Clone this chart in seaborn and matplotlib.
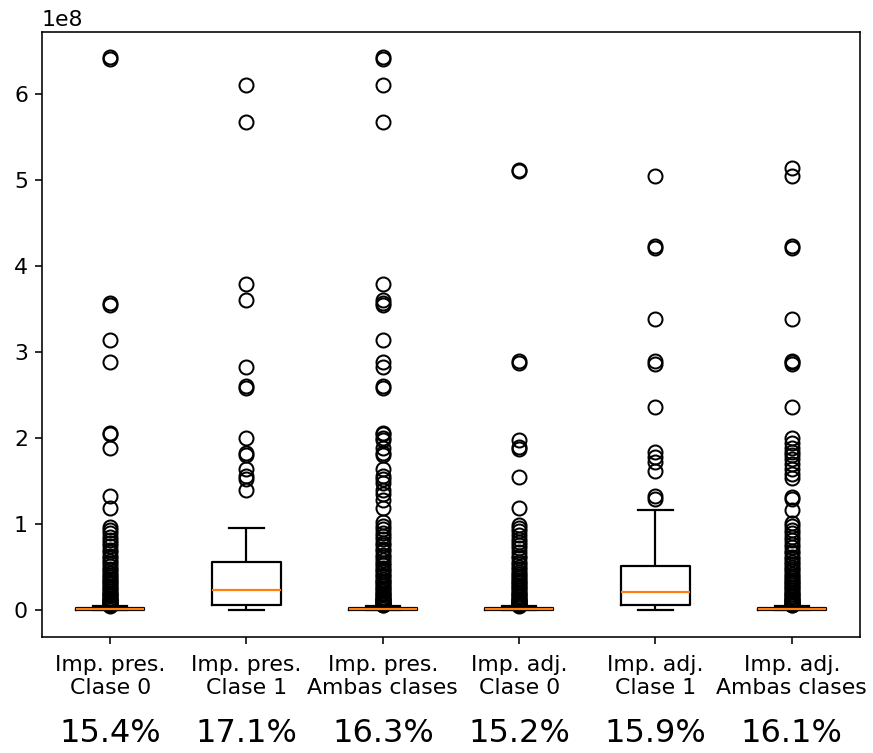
import numpy as np
import pandas as pd
import matplotlib
matplotlib.use("Agg")
import matplotlib.pyplot as plt
import matplotlib.transforms as mtransforms
import seaborn as sns

# ---------------- data (values in units of 1e8) ----------------
labels = ["Imp. pres.\nClase 0", "Imp. pres.\nClase 1", "Imp. pres.\nAmbas clases",
          "Imp. adj.\nClase 0", "Imp. adj.\nClase 1", "Imp. adj.\nAmbas clases"]
percentages = ["15.4%", "17.1%", "16.3%", "15.2%", "15.9%", "16.1%"]

# box statistics per group: lower whisker, Q1, median, Q3, upper whisker
stats_g1 = [0.0, 0.001, 0.006, 0.020, 0.040]
stats_g2 = [0.0, 0.055, 0.230, 0.560, 0.950]
stats_g3 = [0.0, 0.001, 0.007, 0.022, 0.045]
stats_g4 = [0.0, 0.001, 0.006, 0.020, 0.040]
stats_g5 = [0.0, 0.055, 0.210, 0.510, 1.160]
stats_g6 = [0.0, 0.001, 0.007, 0.022, 0.045]

out_g1 = [6.43, 6.41, 3.57, 3.55, 3.14, 2.88, 2.06, 2.04, 1.88, 1.33, 1.18,
          0.96, 0.93, 0.89, 0.85, 0.81, 0.78, 0.74, 0.70, 0.67, 0.63, 0.60, 0.57,
          0.54, 0.51, 0.48, 0.46, 0.43, 0.41, 0.38, 0.36, 0.34, 0.32, 0.30, 0.28,
          0.26, 0.24, 0.22, 0.20, 0.19, 0.17, 0.16, 0.14, 0.13, 0.12, 0.11, 0.10,
          0.09, 0.08, 0.07, 0.065, 0.06, 0.055, 0.05]
out_g2 = [6.10, 5.67, 3.79, 3.60, 2.83, 2.60, 2.58, 2.00, 1.82, 1.80, 1.64,
          1.56, 1.52, 1.40]
out_g3 = [6.43, 6.41, 6.10, 5.67, 3.79, 3.60, 3.57, 3.55, 3.14, 2.88, 2.83,
          2.60, 2.58, 2.06, 2.04, 2.00, 1.98, 1.88, 1.82, 1.80, 1.64, 1.56, 1.52,
          1.48, 1.40, 1.35, 1.28, 1.19, 1.02, 0.98, 0.94, 0.90, 0.86, 0.82, 0.78,
          0.75, 0.71, 0.68, 0.64, 0.61, 0.58, 0.55, 0.52, 0.49, 0.46, 0.44, 0.41,
          0.39, 0.36, 0.34, 0.32, 0.30, 0.28, 0.26, 0.24, 0.22, 0.20, 0.18, 0.17,
          0.15, 0.14, 0.13, 0.12, 0.11, 0.10, 0.09, 0.08, 0.07, 0.065, 0.06, 0.055]
out_g4 = [5.12, 5.10, 2.90, 2.87, 1.98, 1.89, 1.87, 1.55, 1.19, 0.99, 0.95,
          0.92, 0.87, 0.83, 0.79, 0.75, 0.72, 0.67, 0.63, 0.60, 0.56, 0.53, 0.50,
          0.47, 0.44, 0.42, 0.39, 0.37, 0.35, 0.33, 0.31, 0.29, 0.27, 0.25, 0.23,
          0.21, 0.19, 0.18, 0.16, 0.15, 0.13, 0.12, 0.11, 0.10, 0.09, 0.08, 0.07,
          0.065, 0.06, 0.055, 0.05]
out_g5 = [5.05, 4.23, 4.21, 3.38, 2.89, 2.86, 2.36, 1.84, 1.78, 1.72, 1.62,
          1.33, 1.29]
out_g6 = [5.14, 5.05, 4.23, 4.21, 3.38, 2.90, 2.88, 2.86, 2.36, 2.00, 1.94,
          1.88, 1.84, 1.80, 1.75, 1.70, 1.64, 1.58, 1.53, 1.31, 1.29, 1.16, 1.01,
          0.97, 0.93, 0.89, 0.85, 0.81, 0.77, 0.73, 0.69, 0.66, 0.62, 0.59, 0.56,
          0.53, 0.50, 0.47, 0.45, 0.42, 0.40, 0.37, 0.35, 0.33, 0.31, 0.29, 0.27,
          0.25, 0.23, 0.21, 0.19, 0.18, 0.16, 0.15, 0.13, 0.12, 0.11, 0.10, 0.09,
          0.08, 0.07, 0.065, 0.06, 0.055]

SCALE = 1e8
BLOCK = 150  # repetitions so that quartiles land exactly on the listed stats

all_stats = [stats_g1, stats_g2, stats_g3, stats_g4, stats_g5, stats_g6]
all_out = [out_g1, out_g2, out_g3, out_g4, out_g5, out_g6]

rows = []
for lab, st, outs in zip(labels, all_stats, all_out):
    lo, q1, med, q3, hi = st
    vals = [lo] + [q1] * BLOCK + [med] * BLOCK + [q3] * BLOCK + [hi] + list(outs)
    for v in vals:
        rows.append((lab, v * SCALE))
df = pd.DataFrame(rows, columns=["grupo", "importe"])

# ---------------- plot ----------------
fig = plt.figure(figsize=(873 / 144, 753 / 144), dpi=144)
ax = fig.add_axes([42 / 873, 1 - 637 / 753, (860 - 42) / 873, (637 - 32) / 753])

sns.boxplot(
    data=df, x="grupo", y="importe", order=labels, ax=ax,
    fill=False, color="black", linecolor="black", width=0.5, linewidth=1.1,
    whis=1.5,
    medianprops={"color": "#ff7f0e", "linewidth": 1.1},
    flierprops={"marker": "o", "markersize": 7, "markerfacecolor": "none",
                "markeredgecolor": "black", "markeredgewidth": 1.0},
)

ax.set_xlabel("")
ax.set_ylabel("")
ax.set_xlim(-0.5, 5.5)
ax.set_ylim(-0.315e8, 6.72e8)
ax.set_xticks(range(len(labels)))
ax.set_xticklabels(labels, fontsize=11)
ax.tick_params(axis="x", pad=5.5)
ax.tick_params(axis="y", labelsize=11)
ax.yaxis.get_offset_text().set_fontsize(11)

trans = mtransforms.blended_transform_factory(ax.transData, fig.transFigure)
for i, p in enumerate(percentages):
    ax.text(i, 1 - 734 / 753, p, transform=trans, ha="center", va="center",
            fontsize=16, color="black")

fig.savefig("out.png", dpi=144)
